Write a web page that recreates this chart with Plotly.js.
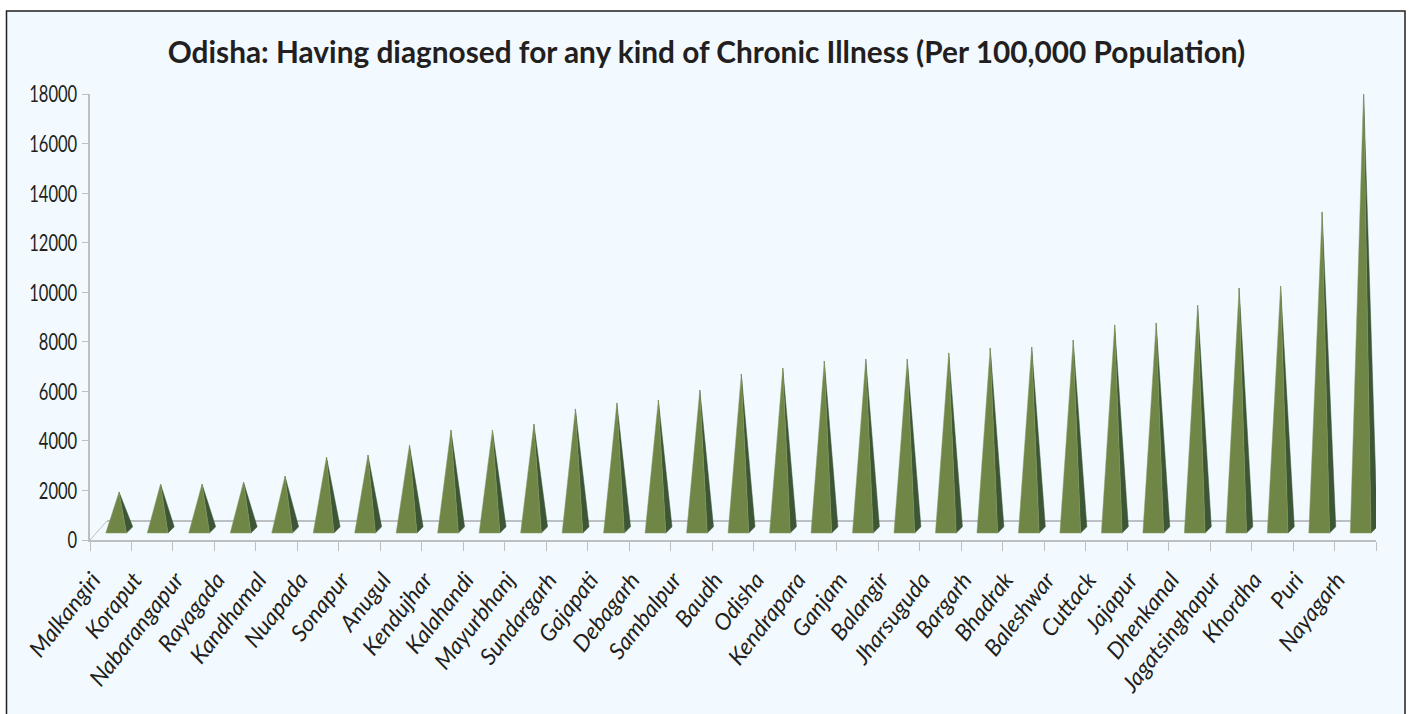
<!DOCTYPE html>
<html>
<head>
<meta charset="utf-8">
<script src="https://cdn.plot.ly/plotly-3.0.1.min.js"></script>
<style>html,body{margin:0;padding:0;background:#fff}</style>
</head>
<body>
<div id="chart" style="width:1410px;height:714px"></div>
<script>
const districts = ["Malkangiri","Koraput","Nabarangapur","Rayagada","Kandhamal","Nuapada","Sonapur","Anugul","Kendujhar","Kalahandi","Mayurbhanj","Sundargarh","Gajapati","Debagarh","Sambalpur","Baudh","Odisha","Kendrapara","Ganjam","Balangir","Jharsuguda","Bargarh","Bhadrak","Baleshwar","Cuttack","Jajapur","Dhenkanal","Jagatsinghapur","Khordha","Puri","Nayagarh"];
const values = [1940,2260,2260,2340,2580,3350,3430,3830,4440,4440,4680,5290,5530,5650,6050,6700,6940,7220,7300,7300,7550,7750,7790,8070,8680,8760,9480,10170,10250,13240,18080];
const yTicks = [0,2000,4000,6000,8000,10000,12000,14000,16000,18000];

const W = 1410, H = 714, L = 90, R = 1376, T = 94, B = 540;
const gridColor = "#bcc0c2";
const base = 280, frontShift = 0.13, halfW = 0.25, apexShift = 0.07, sideDX = 0.15, sideDY = 250;

const frontX = [], frontY = [], sideX = [], sideY = [];
values.forEach((v, i) => {
  const c = i + 0.5 + frontShift;
  frontX.push(c - halfW, c + apexShift, c + halfW, c - halfW, null);
  frontY.push(base, v, base, base, null);
  sideX.push(c + halfW, c + apexShift, c + halfW + sideDX, c + halfW, null);
  sideY.push(base, v, base + sideDY, base, null);
});
const n = districts.length;
const fontStack = 'Lato, "Open Sans", sans-serif';

const traces = [
  {x: sideX, y: sideY, xaxis: "x", mode: "lines", fill: "toself", fillcolor: "#3c5636",
   line: {color: "#3c5636", width: 0.5}, hoverinfo: "skip", showlegend: false},
  {x: frontX, y: frontY, xaxis: "x", mode: "lines", fill: "toself", fillcolor: "#6f8646",
   line: {color: "#8a9f68", width: 0.5}, hoverinfo: "skip", showlegend: false},
  {x: districts.map((d, i) => i + 0.5), y: values, xaxis: "x2", mode: "markers",
   marker: {opacity: 0, size: 1}, text: districts, hoverinfo: "text+y", showlegend: false}
];

const px = x => (x - L) / (R - L), py = y => (B - y) / (B - T);
const layout = {
  width: W, height: H,
  margin: {l: L, r: W - R, t: T, b: H - B, pad: 0},
  paper_bgcolor: "#ffffff", plot_bgcolor: "rgba(0,0,0,0)",
  title: {text: "<b>Odisha: Having diagnosed for any kind of Chronic Illness (Per 100,000 Population)</b>",
    x: 706.5 / W, xanchor: "center", y: 1 - 53 / H, yanchor: "middle",
    font: {family: fontStack, size: 29.8, color: "#231f20"}},
  xaxis: {range: [0, n], tickvals: districts.map((d, i) => i).concat([n]), showticklabels: false,
    ticks: "outside", ticklen: 9, tickcolor: gridColor, tickwidth: 1, showgrid: false, zeroline: false,
    showline: true, linecolor: gridColor, linewidth: 2},
  xaxis2: {overlaying: "x", range: [0, n], side: "bottom", tickvals: districts.map((d, i) => i + 0.5), ticktext: districts,
    tickangle: -52, ticks: "", showgrid: false, zeroline: false, showline: false, ticklabelstandoff: 21, ticklabelshift: -18,
    tickfont: {family: fontStack, size: 22.8, style: "italic", color: "#231f20"}},
  yaxis: {range: [0, 18000], tickvals: yTicks, ticktext: yTicks.map(String), ticks: "outside", ticklen: 6,
    tickcolor: gridColor, tickwidth: 1, showgrid: false, zeroline: false, showline: true, linecolor: gridColor, linewidth: 2,
    tickfont: {family: fontStack, size: 24, color: "#231f20"}},
  shapes: [
    {type: "rect", xref: "paper", yref: "paper", x0: px(6.5), x1: px(1405), y0: py(11), y1: py(720), layer: "below",
     fillcolor: "#f2faff", line: {color: "#231f20", width: 1.5}},
    {type: "line", xref: "x", yref: "y", x0: 0.41, x1: 31.2, y0: 770, y1: 770, layer: "below", line: {color: gridColor, width: 2}},
    {type: "line", xref: "x", yref: "y", x0: 0, x1: 0.41, y0: 0, y1: 770, layer: "below", line: {color: gridColor, width: 1}},
    {type: "line", xref: "x", yref: "y", x0: 31, x1: 31.2, y0: 0, y1: 370, layer: "below", line: {color: gridColor, width: 1}}
  ]
};
function squeezeYLabels() {
  document.querySelectorAll("#chart .ytick text").forEach(t => {
    t.setAttribute("lengthAdjust", "spacingAndGlyphs");
    t.setAttribute("textLength", String(9.6 * t.textContent.length));
  });
}
Plotly.newPlot("chart", traces, layout, {displayModeBar: false, responsive: false}).then(squeezeYLabels);
</script>
</body>
</html>
